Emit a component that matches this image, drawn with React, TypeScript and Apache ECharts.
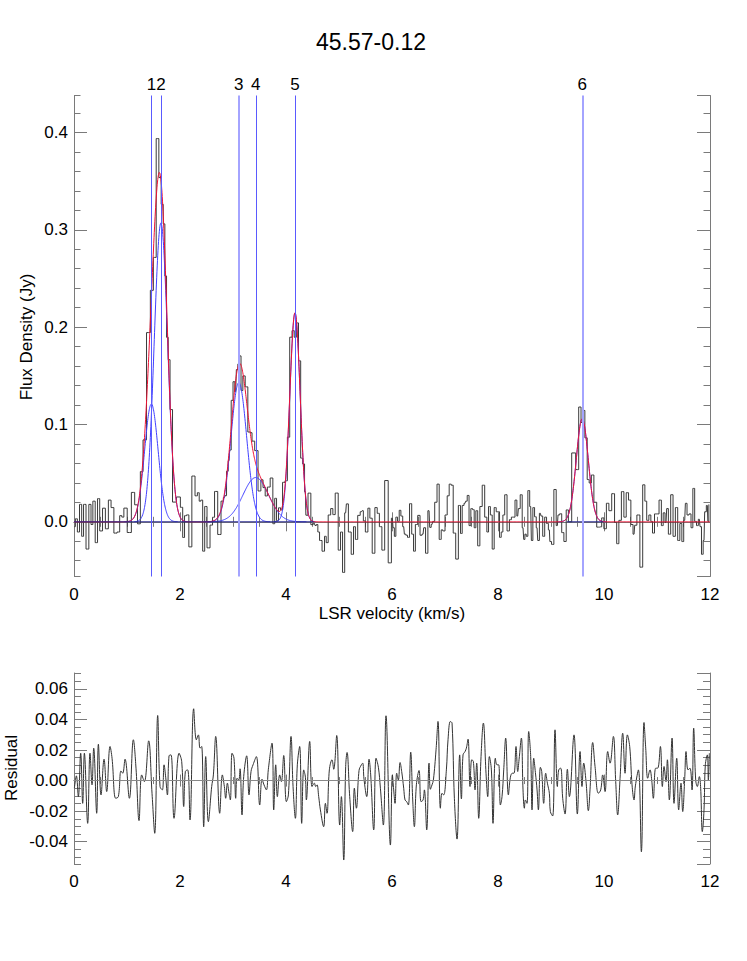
import React, { useEffect, useRef } from 'react';
import * as echarts from 'echarts';

// ---------- data ----------
const chartTitle = '45.57-0.12';
const componentLabel = ['1', '2', '3', '4', '5', '6'];
const componentCenter = [1.46, 1.64, 3.11, 3.43, 4.17, 9.59]; // km/s
const componentPeak = [0.121, 0.307, 0.143, 0.0455, 0.2145, 0.106]; // Jy
const componentFwhm = [0.3, 0.296, 0.35, 0.57, 0.23, 0.266]; // km/s
const baselineRanges = [
  [0, 4.52],
  [9.3, 9.98],
];

// residual (observed - fit) read at its turning points
const channelVelocity = [
  0.007, 0.045, 0.082, 0.126, 0.164, 0.196, 0.258, 0.302, 0.34, 0.372, 0.428, 0.46, 0.51, 0.567, 0.617, 0.68, 0.718,
  0.787, 0.837, 0.887, 0.919, 0.963, 1.045, 1.12, 1.17, 1.227, 1.277, 1.328, 1.409, 1.472, 1.523, 1.579, 1.623, 1.667,
  1.699, 1.73, 1.762, 1.793, 1.831, 1.887, 1.982, 2.032, 2.07, 2.101, 2.145, 2.189, 2.258, 2.309, 2.347, 2.378, 2.409,
  2.447, 2.485, 2.535, 2.598, 2.63, 2.674, 2.749, 2.799, 2.837, 2.862, 2.894, 2.925, 2.95, 2.982, 3.019,
  3.051, 3.076, 3.108, 3.133, 3.17, 3.202, 3.258, 3.302, 3.34, 3.378, 3.441, 3.504, 3.548, 3.585, 3.63, 3.667, 3.736,
  3.768, 3.806, 3.837, 3.881, 3.913, 3.957, 4.007, 4.045, 4.095, 4.133, 4.177, 4.214, 4.258, 4.296, 4.334, 4.366,
  4.384, 4.447, 4.491, 4.535, 4.56, 4.585, 4.617, 4.649, 4.711, 4.743, 4.774, 4.818, 4.868, 4.9, 4.957, 5.013, 5.045,
  5.089, 5.126, 5.152, 5.202, 5.258, 5.29, 5.328, 5.378, 5.422, 5.447, 5.472, 5.523, 5.567, 5.598, 5.655, 5.699,
  5.743, 5.781, 5.837, 5.887, 5.97,
  6.007, 6.032, 6.057, 6.089, 6.12, 6.152, 6.183, 6.221, 6.246, 6.277, 6.309, 6.353, 6.391, 6.422, 6.46, 6.51, 6.548,
  6.586, 6.611, 6.655, 6.699, 6.724, 6.755, 6.781, 6.831, 6.868, 6.913, 6.944, 6.975, 7.026, 7.057, 7.101, 7.133,
  7.177, 7.227, 7.277, 7.309, 7.34, 7.378, 7.403, 7.435, 7.472, 7.504, 7.535, 7.567, 7.598, 7.636, 7.68, 7.724,
  7.774, 7.806, 7.837, 7.875, 7.906, 7.95, 7.982, 8.013, 8.045, 8.076, 8.108, 8.145, 8.196, 8.234, 8.271, 8.302,
  8.34, 8.372, 8.397, 8.441, 8.472, 8.498, 8.517, 8.548, 8.579, 8.617, 8.642, 8.674, 8.706, 8.737, 8.762, 8.8, 8.825,
  8.862, 8.9, 8.932, 8.969, 8.988,
  9.032, 9.076, 9.12, 9.145, 9.183, 9.221, 9.265, 9.309, 9.347, 9.434, 9.497, 9.548, 9.585, 9.617, 9.661, 9.705,
  9.736, 9.787, 9.831, 9.894, 9.938, 9.975, 10.02, 10.07, 10.114, 10.177, 10.221, 10.258, 10.303, 10.353, 10.397,
  10.441, 10.485, 10.529, 10.567, 10.592, 10.649, 10.705, 10.755, 10.787, 10.825, 10.868, 10.9, 10.931, 10.975,
  11.013, 11.064, 11.101, 11.133, 11.17, 11.196, 11.233, 11.284, 11.321, 11.372, 11.409, 11.453, 11.485, 11.523,
  11.548, 11.585, 11.623, 11.661, 11.692, 11.73, 11.761, 11.799, 11.824, 11.855, 11.887, 11.912, 11.95, 11.969, 11.988,
];

const residual = [
  -0.005, 0.0031, -0.0105, 0.0179, -0.0149, 0.0179, -0.028, 0.0179, -0.0028, 0.0212, -0.0214, 0.0238, -0.0094, 0.014,
  -0.0072, 0.0223, 0.0146, -0.0116, -0.0105, 0.0063, 0.0048, 0.014, -0.0116, 0.0267, 0.0081, -0.0262, 0.0037, -0.0007,
  0.026, -0.0083, -0.0345, 0.0426, -0.0039, -0.0061, 0.0103, 0.0022, -0.0094, 0.0162, 0.0168, -0.0247, 0.0179, 0.0125,
  -0.017, 0.0059, 0.007, -0.0258, 0.047, 0.0267, 0.0299, 0.0212, 0.0223, -0.0302, 0.0157, -0.0269, -0.0039, 0.0037,
  0.0289, -0.0214, 0.0037, -0.0039, -0.0116, -0.0017, -0.0083, -0.0127, 0.0179, 0.0146,
  -0.0116, 0.0015, 0.0004, 0.0077, -0.0225, 0.0026, 0.0162, -0.0094, 0.0059, 0.0103, 0.0157, -0.016, 0.0009, -0.0028,
  -0.0061, 0.0074, 0.0245, -0.0192, 0.0103, -0.0105, 0.0037, -0.0007, 0.0164, -0.0138, -0.0094, 0.0289, -0.0039,
  -0.0247, 0.0103, 0.0223, -0.028, 0.007, 0.0022, -0.0127, 0.0256, -0.0039, -0.0017, -0.0039, -0.0028, -0.0105,
  -0.0192, -0.0302, -0.0149, -0.0214, 0.007, 0.0136, 0.0074, 0.0295, -0.0291, -0.0105, -0.052, 0.0092, 0.0184,
  -0.0105, -0.0334, -0.005, -0.0181, 0.0066, 0.0103, 0.0114, 0.0009, -0.0105, 0.014, 0.0037, -0.0323, 0.0146, 0.0087,
  -0.005, -0.0291, 0.0424, -0.0422,
  0.0037, -0.0061, -0.0149, 0.0048, 0.0004, 0.0118, 0.0059, -0.005, -0.0127, -0.0138, -0.016, 0.0186, -0.0127, -0.0302,
  -0.0028, 0.0066, -0.0138, -0.0127, -0.0061, -0.0323, 0.0114, -0.0057, -0.0028, 0.0004, 0.0201, 0.0387, -0.0181,
  -0.0083, -0.0094, 0.007, 0.0267, 0.0387, 0.0376, -0.0116, -0.0383, 0.0168, -0.012, 0.0168, 0.019, 0.0212, 0.0271,
  -0.0039, 0.0136, 0.0125, -0.0061, 0.0114, -0.0247, 0.0157, 0.0376, 0.0048, -0.0105, 0.0157, 0.007, -0.028, 0.0146,
  0.0103, 0.0103, -0.016, -0.0105, 0.007, 0.0278, -0.0094, 0.0022, 0.0048, 0.0048, 0.0223, 0.0059, 0.0136, 0.0278,
  -0.0061, -0.0181, -0.0127, -0.0149, 0.0321, 0.0157, -0.0192, 0.0146, 0.0052, -0.0061, -0.0192, 0.0087, 0.0059,
  -0.0149, 0.0048, -0.0017, -0.0083, -0.0203,
  -0.0232, 0.0332, -0.0039, 0.007, 0.0081, -0.0116, -0.0219, 0.0074, -0.0105, 0.0299, -0.0219, 0.019, -0.0039, 0.0114,
  -0.0007, -0.0197, -0.0061, 0.0249, 0.0092, -0.0083, -0.0061, 0.0037, -0.0072, 0.019, 0.0114, 0.0289, -0.0007,
  -0.0225, 0.0015, 0.031, 0.0048, 0.0299, 0.0223, -0.0028, -0.0127, -0.0035, 0.007, -0.0466, 0.038, 0.0212, 0.0015,
  0.007, 0.0004, -0.0116, 0.0081, 0.0081, 0.0223, -0.0039, 0.0092, -0.0007, 0.0136, -0.0127, 0.0278, -0.0149, 0.0146,
  -0.0192, -0.0017, -0.0203, 0.0015, 0.019, 0.007, 0.0081, -0.0061, 0.0343, 0.0004, -0.0039, 0.0026, -0.005, -0.0334,
  -0.0192, 0.0103, 0.0168, 0.0004, 0.0179,
];

// axis extents
const fluxRange = [-0.0562, 0.438];
const residualRange = [-0.0546, 0.0704];
const velocityRange = [0, 12];

// ---------- styles ----------
const FONT = 'Liberation Sans, Arial, Helvetica, sans-serif';
const AXIS_COLOR = '#7a7a7a';
const markerColor = ['#5a5aff', '#5a5aff', '#a4a4ff', '#5a5aff', '#5a5aff', '#a4a4ff'];
const markerWidth = [1, 1, 2, 1, 1, 2];

const sigmaOf = (i: number) => componentFwhm[i] / 2.35482;
const gauss = (v: number, i: number) => {
  const s = sigmaOf(i);
  const d = (v - componentCenter[i]) / s;
  return componentPeak[i] * Math.exp(-0.5 * d * d);
};
const model = (v: number) => componentCenter.reduce((acc, _c, i) => acc + gauss(v, i), 0);

export default function App() {
  const ref = useRef<HTMLDivElement>(null);

  useEffect(() => {
    if (!ref.current) return;
    const chart = echarts.init(ref.current, undefined, { renderer: 'svg' });

    // sampling grid for the smooth fitted curves
    const curveV: number[] = [];
    for (let k = 0; k <= 2400; k++) curveV.push((velocityRange[1] * k) / 2400);

    const spectrum = channelVelocity.map((v, i) => [v, model(v) + residual[i]]);
    const residualData = channelVelocity.map((v, i) => [v, residual[i]]);
    const totalFit = curveV.map((v) => [v, model(v)]);
    const comps = componentCenter.map((c, i) => {
      const s = sigmaOf(i);
      return curveV.filter((v) => Math.abs(v - c) <= 4 * s).map((v) => [v, gauss(v, i)]);
    });

    const grid0 = { left: 74, top: 95.5, width: 636, height: 481 };
    const grid1 = { left: 74, top: 673, width: 636, height: 191 };

    const xAxisBase = (gridIndex: number, position: string, showLabel: boolean, majorLen: number, minorLen: number) => ({
      type: 'value',
      gridIndex,
      position,
      min: velocityRange[0],
      max: velocityRange[1],
      interval: 2,
      axisLine: { show: true, lineStyle: { color: AXIS_COLOR, width: 1 } },
      axisTick: { show: true, inside: true, length: majorLen, lineStyle: { color: AXIS_COLOR } },
      minorTick: { show: true, splitNumber: 4, length: minorLen, lineStyle: { color: AXIS_COLOR } },
      splitLine: { show: false },
      axisLabel: {
        show: showLabel,
        color: '#000',
        fontFamily: FONT,
        fontSize: 17,
        margin: 9,
      },
    });

    const yAxisBase = (
      gridIndex: number,
      position: string,
      range: number[],
      step: number,
      tickLen: number,
      labels: boolean,
      digits: number,
      showLine: boolean,
    ) => ({
      type: 'value',
      gridIndex,
      position,
      min: range[0],
      max: range[1],
      minInterval: step,
      maxInterval: step,
      splitNumber: Math.round((range[1] - range[0]) / step),
      axisLine: { show: showLine, lineStyle: { color: AXIS_COLOR, width: 1 } },
      axisTick: { show: true, inside: true, length: tickLen, lineStyle: { color: AXIS_COLOR } },
      splitLine: { show: false },
      axisLabel: {
        show: labels,
        showMinLabel: false,
        showMaxLabel: false,
        color: '#000',
        fontFamily: FONT,
        fontSize: 17,
        margin: 6,
        formatter: (val: number) => val.toFixed(digits),
      },
    });

    const option: any = {
      animation: false,
      backgroundColor: '#fff',
      grid: [
        { ...grid0, containLabel: false, outerBoundsMode: 'none' },
        { ...grid1, containLabel: false, outerBoundsMode: 'none' },
      ],
      xAxis: [
        xAxisBase(0, 'bottom', true, 9.5, 5),
        xAxisBase(0, 'top', false, 9.5, 5),
        xAxisBase(1, 'bottom', true, 6, 3.5),
        xAxisBase(1, 'top', false, 6, 3.5),
      ],
      yAxis: [
        yAxisBase(0, 'left', fluxRange, 0.1, 13, true, 1, true),
        yAxisBase(0, 'left', fluxRange, 0.02, 6.5, false, 1, false),
        yAxisBase(0, 'right', fluxRange, 0.1, 13, false, 1, true),
        yAxisBase(0, 'right', fluxRange, 0.02, 6.5, false, 1, false),
        yAxisBase(1, 'left', residualRange, 0.02, 13, true, 2, true),
        yAxisBase(1, 'left', residualRange, 0.005, 7, false, 2, false),
        yAxisBase(1, 'right', residualRange, 0.02, 13, false, 2, true),
        yAxisBase(1, 'right', residualRange, 0.005, 7, false, 2, false),
      ],
      graphic: [
        {
          type: 'text',
          x: 371,
          y: 42,
          style: { text: chartTitle, font: `23px ${FONT}`, fill: '#000', textAlign: 'center', textVerticalAlign: 'middle' },
        },
        {
          type: 'text',
          x: 392,
          y: 613,
          style: { text: 'LSR velocity (km/s)', font: `17px ${FONT}`, fill: '#000', textAlign: 'center', textVerticalAlign: 'middle' },
        },
        {
          type: 'text',
          x: 26,
          y: 337,
          rotation: Math.PI / 2,
          style: { text: 'Flux Density (Jy)', font: `17px ${FONT}`, fill: '#000', textAlign: 'center', textVerticalAlign: 'middle' },
        },
        {
          type: 'text',
          x: 11,
          y: 768,
          rotation: Math.PI / 2,
          style: { text: 'Residual', font: `17px ${FONT}`, fill: '#000', textAlign: 'center', textVerticalAlign: 'middle' },
        },
      ],
      series: [
        {
          name: 'spectrum',
          type: 'line',
          xAxisIndex: 0,
          yAxisIndex: 0,
          data: spectrum,
          step: 'middle',
          showSymbol: false,
          symbol: 'none',
          lineStyle: { color: '#3a3a3a', width: 1 },
          silent: true,
        },
        ...comps.map((d, i) => ({
          name: 'component ' + componentLabel[i],
          type: 'line',
          xAxisIndex: 0,
          yAxisIndex: 0,
          data: d,
          symbol: 'none',
          lineStyle: { color: '#4040ff', width: 1 },
          silent: true,
        })),
        {
          name: 'total fit',
          type: 'line',
          xAxisIndex: 0,
          yAxisIndex: 0,
          data: totalFit,
          symbol: 'none',
          lineStyle: { color: '#ee1133', width: 1 },
          silent: true,
        },
        ...baselineRanges.map((r, i) => ({
          name: 'baseline ' + i,
          type: 'line',
          xAxisIndex: 0,
          yAxisIndex: 0,
          data: [
            [r[0], 0],
            [r[1], 0],
          ],
          symbol: 'none',
          lineStyle: { color: '#24248c', width: 1 },
          silent: true,
          markLine:
            i === baselineRanges.length - 1
              ? {
                  silent: true,
                  symbol: ['none', 'none'],
                  animation: false,
                  data: componentCenter.map((c, k) => ({
                    xAxis: c,
                    lineStyle: { color: markerColor[k], width: markerWidth[k], type: 'solid' },
                    label: {
                      show: true,
                      position: 'end',
                      formatter: componentLabel[k],
                      color: '#000',
                      fontFamily: FONT,
                      fontSize: 17,
                      distance: 3,
                    },
                  })),
                }
              : undefined,
        })),
        {
          name: 'residual',
          type: 'line',
          xAxisIndex: 2,
          yAxisIndex: 4,
          data: residualData,
          symbol: 'none',
          smooth: 0.4,
          lineStyle: { color: '#333', width: 1 },
          silent: true,
          markLine: {
            silent: true,
            symbol: ['none', 'none'],
            label: { show: false },
            lineStyle: { color: '#888', width: 1, type: 'solid' },
            data: [{ yAxis: 0 }],
          },
        },
      ],
    };

    chart.setOption(option);
    return () => chart.dispose();
  }, []);

  return (
    <div
      ref={ref}
      style={{ position: 'fixed', left: 0, top: 0, width: 747, height: 961, background: '#fff' }}
    />
  );
}
